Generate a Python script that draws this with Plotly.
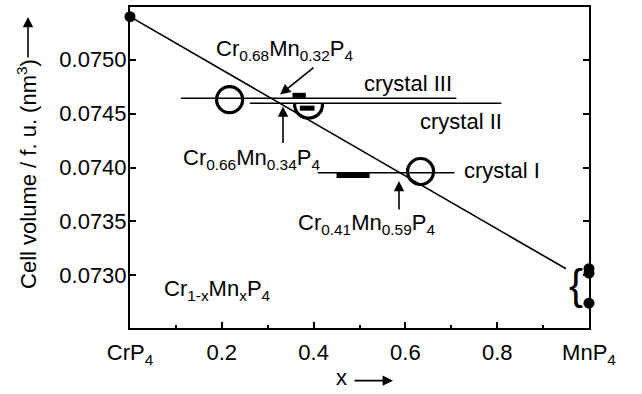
import plotly.graph_objects as go

# ---- data ----
x_ticks = [0, 0.2, 0.4, 0.6, 0.8, 1.0]
x_ticktext = ["CrP<sub>4</sub>", "0.2", "0.4", "0.6", "0.8", "MnP<sub>4</sub>"]
y_ticks = [0.0730, 0.0735, 0.0740, 0.0745, 0.0750]
y_ticktext = ["0.0730", "0.0735", "0.0740", "0.0745", "0.0750"]

vegard_x = [0.0, 0.95]
vegard_v = [0.07540, 0.07306]

end_x = [0.0, 1.0, 1.0, 1.0]
end_v = [0.07540, 0.07306, 0.07302, 0.07274]

crystal3_x = [0.111, 0.711]
crystal3_v = [0.074643, 0.074643]
crystal2_x = [0.261, 0.809]
crystal2_v = [0.074597, 0.074597]
crystal1_x = [0.409, 0.707]
crystal1_v = [0.073951, 0.073951]

circle_x = [0.217, 0.633]
circle_v = [0.074630, 0.073963]
semi_x = 0.389
semi_v = 0.074590

bar3_x = [0.354, 0.383]
bar3_v = [0.074670, 0.074670]
bar2_x = [0.370, 0.402]
bar2_v = [0.074551, 0.074551]
bar1_x = [0.450, 0.522]
bar1_v = [0.073926, 0.073926]

FONT = "Liberation Sans, Arial, sans-serif"
FS = 22
BLACK = "black"

fig = go.Figure()

def seg(xs, vs, width):
    fig.add_trace(go.Scatter(x=xs, y=vs, mode="lines",
                             line=dict(color=BLACK, width=width),
                             showlegend=False, hoverinfo="skip", cliponaxis=False))

seg(vegard_x, vegard_v, 1.6)
seg(crystal3_x, crystal3_v, 1.6)
seg(crystal2_x, crystal2_v, 1.6)
seg(crystal1_x, crystal1_v, 1.6)
seg(bar3_x, bar3_v, 5)
seg(bar2_x, bar2_v, 5)
seg(bar1_x, bar1_v, 5)

fig.add_trace(go.Scatter(x=circle_x, y=circle_v, mode="markers",
                         marker=dict(symbol="circle-open", size=26,
                                     line=dict(color=BLACK, width=3.2), color=BLACK),
                         showlegend=False, hoverinfo="skip", cliponaxis=False))
fig.add_trace(go.Scatter(x=end_x, y=end_v, mode="markers",
                         marker=dict(symbol="circle", size=11, color=BLACK),
                         showlegend=False, hoverinfo="skip", cliponaxis=False))

# semicircle marker (lower half) anchored at its data point
fig.add_shape(type="path", xref="x", yref="y",
              xsizemode="pixel", ysizemode="pixel",
              xanchor=semi_x, yanchor=semi_v,
              path="M -14,0 C -14,-18.7 14,-18.7 14,0",
              line=dict(color=BLACK, width=3.2))

# pixel -> paper helpers (plot area spans x 130..589, y 5..328)
def pxx(px):
    return (px - 130) / 459.0

def pxy(py):
    return (328 - py) / 323.0

ann = []
def text(px, py, t, size=FS, **kw):
    ann.append(dict(x=pxx(px), y=pxy(py), xref="paper", yref="paper", text=t,
                    showarrow=False, font=dict(family=FONT, size=size, color=BLACK),
                    xanchor="center", yanchor="middle", **kw))

def arrow(tip_px, tip_py, ax, ay):
    ann.append(dict(x=pxx(tip_px), y=pxy(tip_py), xref="paper", yref="paper", text="",
                    showarrow=True, ax=ax, ay=ay, arrowhead=2, arrowsize=1.3,
                    arrowwidth=1.6, arrowcolor=BLACK, standoff=0, startstandoff=0))

text(284, 48, "Cr<sub>0.68</sub>Mn<sub>0.32</sub>P<sub>4</sub>")
text(251, 158, "Cr<sub>0.66</sub>Mn<sub>0.34</sub>P<sub>4</sub>")
text(366, 223, "Cr<sub>0.41</sub>Mn<sub>0.59</sub>P<sub>4</sub>")
text(408, 82, "crystal III")
text(461, 120, "crystal II")
text(502, 170, "crystal I")
text(217, 290, "Cr<sub>1-x</sub>Mn<sub>x</sub>P<sub>4</sub>")
text(576, 284, "{", size=42)

arrow(280, 93, 35, -28)
arrow(283, 105, 0, 38)
arrow(399, 180, 0, 30)

# axis titles with arrows
text(27, 173, "Cell volume / f. u. (nm<sup>3</sup>)", textangle=-90)
arrow(28, 15, 0, 42)
text(341, 378, "x")
arrow(393, 381, -40, 0)

fig.update_layout(
    width=642, height=394,
    margin=dict(l=130, r=53, t=5, b=66),
    paper_bgcolor="white", plot_bgcolor="white",
    font=dict(family=FONT, size=FS, color=BLACK),
    annotations=ann,
    showlegend=False,
)
fig.update_xaxes(range=[0, 1], tickmode="array", tickvals=x_ticks, ticktext=x_ticktext,
                 showgrid=False, zeroline=False, showline=True, linecolor=BLACK,
                 linewidth=2, mirror=True, ticks="inside", ticklen=6, tickwidth=1.5,
                 tickcolor=BLACK, ticklabelstandoff=4,
                 minor=dict(tickmode="linear", tick0=0, dtick=0.1, ticks="inside",
                            ticklen=3, tickwidth=1.5, tickcolor=BLACK, showgrid=False),
                 tickfont=dict(family=FONT, size=FS, color=BLACK))
fig.update_yaxes(range=[0.07251, 0.07549], tickvals=y_ticks, ticktext=y_ticktext,
                 showgrid=False, zeroline=False, showline=True, linecolor=BLACK,
                 linewidth=2, mirror="ticks", ticks="inside", ticklen=6, tickwidth=1.5,
                 tickcolor=BLACK, ticklabelstandoff=-3,
                 tickfont=dict(family=FONT, size=FS, color=BLACK))

fig.write_html("out.html",
               config={"displayModeBar": False},
               post_script="document.body.style.margin='0';"
                           "document.body.style.overflow='hidden';")
